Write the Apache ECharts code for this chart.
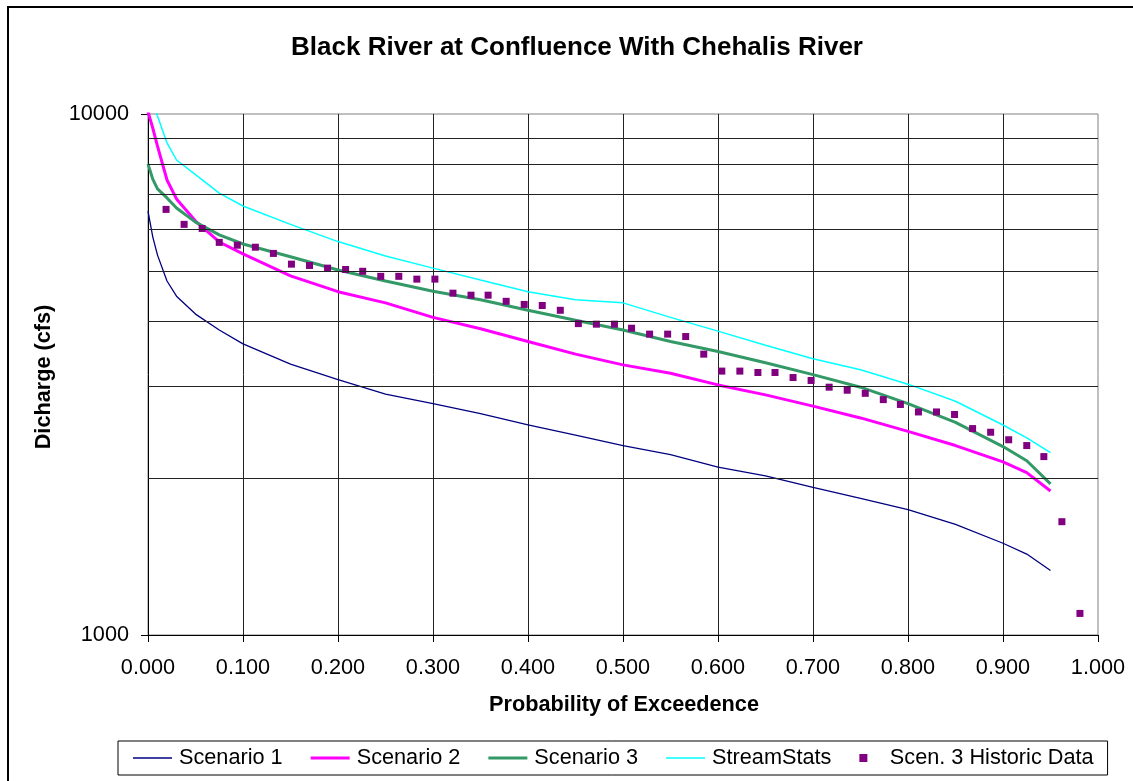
<!DOCTYPE html>
<html>
<head>
<meta charset="utf-8">
<script src="https://cdn.jsdelivr.net/npm/echarts@6/dist/echarts.min.js"></script>
<style>
html,body{margin:0;padding:0;background:#fff;}
#chart{width:1133px;height:781px;}
</style>
</head>
<body>
<div id="chart"></div>
<script>
// ---- data ----
const PROB = [0, 0.005, 0.01, 0.02, 0.03, 0.05, 0.075, 0.1, 0.15, 0.2, 0.25, 0.3, 0.35, 0.4, 0.45, 0.5, 0.55, 0.6, 0.65, 0.7, 0.75, 0.8, 0.85, 0.9, 0.925, 0.95];
const SCEN1 = [6510, 5810, 5360, 4780, 4470, 4130, 3850, 3620, 3310, 3090, 2900, 2780, 2660, 2530, 2420, 2310, 2220, 2100, 2020, 1920, 1830, 1740, 1630, 1500, 1430, 1330];
const SCEN2 = [10100, 9400, 8680, 7470, 6870, 6230, 5680, 5390, 4890, 4560, 4340, 4070, 3870, 3660, 3460, 3300, 3180, 3020, 2890, 2750, 2610, 2460, 2310, 2150, 2050, 1890];
const SCEN3 = [8020, 7500, 7180, 6900, 6600, 6200, 5860, 5630, 5320, 5020, 4780, 4570, 4400, 4200, 4020, 3850, 3660, 3500, 3330, 3160, 2990, 2780, 2560, 2300, 2160, 1950];
const STREAM = [11800, 10640, 9910, 8800, 8160, 7650, 7050, 6660, 6140, 5690, 5340, 5060, 4800, 4560, 4400, 4340, 4070, 3830, 3600, 3390, 3230, 3030, 2810, 2530, 2390, 2240];
const HIST_P = [0.019, 0.038, 0.057, 0.075, 0.094, 0.113, 0.132, 0.151, 0.170, 0.189, 0.208, 0.226, 0.245, 0.264, 0.283, 0.302, 0.321, 0.340, 0.358, 0.377, 0.396, 0.415, 0.434, 0.453, 0.472, 0.491, 0.509, 0.528, 0.547, 0.566, 0.585, 0.604, 0.623, 0.642, 0.660, 0.679, 0.698, 0.717, 0.736, 0.755, 0.774, 0.792, 0.811, 0.830, 0.849, 0.868, 0.887, 0.906, 0.925, 0.943, 0.962, 0.981];
const HIST_Q = [6560, 6140, 6030, 5670, 5600, 5550, 5400, 5150, 5120, 5060, 5030, 4990, 4880, 4880, 4820, 4820, 4530, 4490, 4490, 4370, 4310, 4290, 4200, 3960, 3950, 3950, 3880, 3780, 3780, 3740, 3460, 3210, 3210, 3190, 3190, 3120, 3080, 2990, 2950, 2910, 2830, 2770, 2680, 2680, 2650, 2490, 2450, 2370, 2310, 2200, 1650, 1100];
const GRID_Y = [2000, 3000, 4000, 5000, 6000, 7000, 8000, 9000];
const NAMES = ['Scenario 1', 'Scenario 2', 'Scenario 3', 'StreamStats', 'Scen. 3 Historic Data'];
const TITLE = 'Black River at Confluence With Chehalis River';
const X_NAME = 'Probability of Exceedence';
const Y_NAME = 'Dicharge (cfs)';

const FONT = '"Liberation Sans", Arial, sans-serif';
const pair = (xs, ys) => xs.map((x, i) => [x, ys[i]]);

const chart = echarts.init(document.getElementById('chart'), null, {renderer: 'canvas'});
chart.setOption({
  animation: false,
  backgroundColor: '#fff',
  grid: {left: 148, top: 114, width: 950, height: 521, show: true, borderColor: '#808080', borderWidth: 1, backgroundColor: 'transparent', containLabel: false},
  xAxis: {
    type: 'value', min: 0, max: 1, interval: 0.1,
    axisLine: {show: true, lineStyle: {color: '#000', width: 1}},
    axisTick: {show: true, length: 7, lineStyle: {color: '#000'}},
    axisLabel: {formatter: v => v.toFixed(3), fontSize: 21.7, color: '#000', fontFamily: FONT, margin: 22},
    splitLine: {show: true, showMinLine: false, showMaxLine: false, lineStyle: {color: '#222', width: 1}}
  },
  yAxis: {
    type: 'log', logBase: 10, min: 1000, max: 10000,
    axisLine: {show: true, onZero: false, lineStyle: {color: '#000', width: 1}},
    axisTick: {show: true, length: 7, lineStyle: {color: '#000'}},
    axisLabel: {formatter: v => String(Math.round(v)), fontSize: 21.7, color: '#000', fontFamily: FONT, margin: 19},
    splitLine: {show: false}
  },
  legend: {
    left: 118, top: 741, orient: 'horizontal',
    padding: [6, 14, 6, 15], itemGap: 28, itemWidth: 39, itemHeight: 8,
    borderColor: '#000', borderWidth: 1, selectedMode: false,
    textStyle: {fontSize: 21.7, color: '#000', fontFamily: FONT, padding: [0, 0, 0, 2]},
    data: [
      {name: NAMES[0], icon: 'path://M0 0H39V1.3H0Z'},
      {name: NAMES[1], icon: 'path://M0 0H39V3H0Z'},
      {name: NAMES[2], icon: 'path://M0 0H39V3H0Z'},
      {name: NAMES[3], icon: 'path://M0 0H39V1.5H0Z'},
      {name: NAMES[4], icon: 'path://M0 0H10V10H0Z'}
    ]
  },
  graphic: [
    {type: 'rect', silent: true, z: 0, shape: {x: 8, y: 7, width: 1400, height: 1000}, style: {fill: 'none', stroke: '#000', lineWidth: 2}},
    {type: 'text', silent: true, x: 577, y: 48, style: {text: TITLE, fontSize: 26, fontWeight: 'bold', fontFamily: FONT, fill: '#000', align: 'center', verticalAlign: 'middle'}},
    {type: 'text', silent: true, x: 624, y: 705, style: {text: X_NAME, fontSize: 21.7, fontWeight: 'bold', fontFamily: FONT, fill: '#000', align: 'center', verticalAlign: 'middle'}},
    {type: 'text', silent: true, x: 44, y: 377, rotation: Math.PI / 2, style: {text: Y_NAME, fontSize: 21.7, fontWeight: 'bold', fontFamily: FONT, fill: '#000', align: 'center', verticalAlign: 'middle'}}
  ],
  series: [
    {type: 'line', name: '_grid', data: [], z: 1, silent: true,
     markLine: {silent: true, symbol: ['none', 'none'], label: {show: false}, animation: false,
       lineStyle: {color: '#222', width: 1, type: 'solid'},
       data: GRID_Y.map(v => ({yAxis: v}))}},
    {type: 'line', name: NAMES[0], data: pair(PROB, SCEN1), symbol: 'none', clip: true, z: 3,
     lineStyle: {color: '#000080', width: 1.3}, itemStyle: {color: '#000080'}},
    {type: 'line', name: NAMES[1], data: pair(PROB, SCEN2), symbol: 'none', clip: true, z: 3,
     lineStyle: {color: '#FF00FF', width: 3}, itemStyle: {color: '#FF00FF'}},
    {type: 'line', name: NAMES[2], data: pair(PROB, SCEN3), symbol: 'none', clip: true, z: 3,
     lineStyle: {color: '#339966', width: 3}, itemStyle: {color: '#339966'}},
    {type: 'line', name: NAMES[3], data: pair(PROB, STREAM), symbol: 'none', clip: true, z: 3,
     lineStyle: {color: '#00FFFF', width: 1.5}, itemStyle: {color: '#00FFFF'}},
    {type: 'scatter', name: NAMES[4], data: pair(HIST_P, HIST_Q), symbol: 'rect', symbolSize: 7, z: 4,
     itemStyle: {color: '#800080', opacity: 1}}
  ]
});
</script>
</body>
</html>
